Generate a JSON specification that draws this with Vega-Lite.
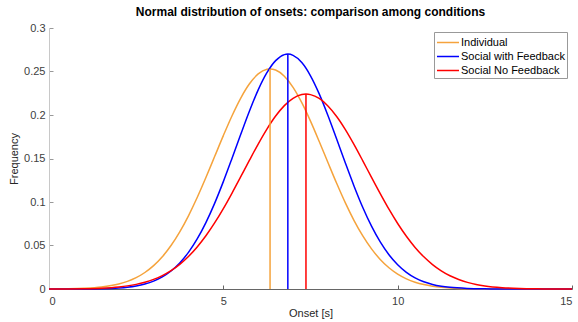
{
  "$schema": "https://vega.github.io/schema/vega-lite/v6.json",
  "width": 523,
  "height": 261,
  "autosize": "none",
  "padding": {"left": 49, "top": 28, "right": 6, "bottom": 33},
  "background": "white",
  "title": {"text": "Normal distribution of onsets: comparison among conditions", "fontSize": 12, "font": "Liberation Sans", "fontWeight": "bold", "color": "black", "offset": 3, "anchor": "middle"},
  "config": {
    "view": {"stroke": null},
    "font": "Liberation Sans",
    "axis": {"grid": false, "labelFont": "Liberation Sans", "labelFontSize": 11, "labelColor": "#404040", "titleFont": "Liberation Sans", "titleFontSize": 11, "titleFontWeight": "normal", "titleColor": "#262626", "tickSize": -4, "domainWidth": 1}
  },
  "datasets": {
    "curves": [
      {"condition": "Individual", "x": 0, "y": 0.00008},
      {"condition": "Individual", "x": 0.5, "y": 0.00027},
      {"condition": "Individual", "x": 1, "y": 0.00082},
      {"condition": "Individual", "x": 1.5, "y": 0.00228},
      {"condition": "Individual", "x": 2, "y": 0.00573},
      {"condition": "Individual", "x": 2.25, "y": 0.00876},
      {"condition": "Individual", "x": 2.5, "y": 0.01304},
      {"condition": "Individual", "x": 2.75, "y": 0.01896},
      {"condition": "Individual", "x": 3, "y": 0.02685},
      {"condition": "Individual", "x": 3.25, "y": 0.03709},
      {"condition": "Individual", "x": 3.5, "y": 0.04997},
      {"condition": "Individual", "x": 3.75, "y": 0.06566},
      {"condition": "Individual", "x": 4, "y": 0.08415},
      {"condition": "Individual", "x": 4.25, "y": 0.1051},
      {"condition": "Individual", "x": 4.5, "y": 0.1281},
      {"condition": "Individual", "x": 4.75, "y": 0.1522},
      {"condition": "Individual", "x": 5, "y": 0.1763},
      {"condition": "Individual", "x": 5.25, "y": 0.1992},
      {"condition": "Individual", "x": 5.5, "y": 0.2195},
      {"condition": "Individual", "x": 5.75, "y": 0.2359},
      {"condition": "Individual", "x": 6, "y": 0.2472},
      {"condition": "Individual", "x": 6.25, "y": 0.2526},
      {"condition": "Individual", "x": 6.34, "y": 0.253},
      {"condition": "Individual", "x": 6.5, "y": 0.2517},
      {"condition": "Individual", "x": 6.75, "y": 0.2446},
      {"condition": "Individual", "x": 7, "y": 0.2318},
      {"condition": "Individual", "x": 7.25, "y": 0.2142},
      {"condition": "Individual", "x": 7.5, "y": 0.193},
      {"condition": "Individual", "x": 7.75, "y": 0.1696},
      {"condition": "Individual", "x": 8, "y": 0.1454},
      {"condition": "Individual", "x": 8.25, "y": 0.1215},
      {"condition": "Individual", "x": 8.5, "y": 0.099},
      {"condition": "Individual", "x": 8.75, "y": 0.0787},
      {"condition": "Individual", "x": 9, "y": 0.061},
      {"condition": "Individual", "x": 9.25, "y": 0.0461},
      {"condition": "Individual", "x": 9.5, "y": 0.034},
      {"condition": "Individual", "x": 9.75, "y": 0.0244},
      {"condition": "Individual", "x": 10, "y": 0.0171},
      {"condition": "Individual", "x": 10.25, "y": 0.0117},
      {"condition": "Individual", "x": 10.5, "y": 0.0078},
      {"condition": "Individual", "x": 10.75, "y": 0.00507},
      {"condition": "Individual", "x": 11, "y": 0.00322},
      {"condition": "Individual", "x": 11.25, "y": 0.00199},
      {"condition": "Individual", "x": 11.5, "y": 0.0012},
      {"condition": "Individual", "x": 12, "y": 0.0004},
      {"condition": "Individual", "x": 13, "y": 0.00003},
      {"condition": "Individual", "x": 14, "y": 0},
      {"condition": "Individual", "x": 15, "y": 0},
      {"condition": "Social with Feedback", "x": 0, "y": 0.00001},
      {"condition": "Social with Feedback", "x": 0.5, "y": 0.00003},
      {"condition": "Social with Feedback", "x": 1, "y": 0.00011},
      {"condition": "Social with Feedback", "x": 1.5, "y": 0.00039},
      {"condition": "Social with Feedback", "x": 2, "y": 0.00124},
      {"condition": "Social with Feedback", "x": 2.25, "y": 0.00213},
      {"condition": "Social with Feedback", "x": 2.5, "y": 0.00355},
      {"condition": "Social with Feedback", "x": 2.75, "y": 0.00576},
      {"condition": "Social with Feedback", "x": 3, "y": 0.00908},
      {"condition": "Social with Feedback", "x": 3.25, "y": 0.0139},
      {"condition": "Social with Feedback", "x": 3.5, "y": 0.0207},
      {"condition": "Social with Feedback", "x": 3.75, "y": 0.0299},
      {"condition": "Social with Feedback", "x": 4, "y": 0.0421},
      {"condition": "Social with Feedback", "x": 4.25, "y": 0.0575},
      {"condition": "Social with Feedback", "x": 4.5, "y": 0.0763},
      {"condition": "Social with Feedback", "x": 4.75, "y": 0.0984},
      {"condition": "Social with Feedback", "x": 5, "y": 0.1234},
      {"condition": "Social with Feedback", "x": 5.25, "y": 0.1503},
      {"condition": "Social with Feedback", "x": 5.5, "y": 0.1779},
      {"condition": "Social with Feedback", "x": 5.75, "y": 0.2047},
      {"condition": "Social with Feedback", "x": 6, "y": 0.2289},
      {"condition": "Social with Feedback", "x": 6.25, "y": 0.2486},
      {"condition": "Social with Feedback", "x": 6.5, "y": 0.2625},
      {"condition": "Social with Feedback", "x": 6.75, "y": 0.2694},
      {"condition": "Social with Feedback", "x": 6.85, "y": 0.27},
      {"condition": "Social with Feedback", "x": 7, "y": 0.2686},
      {"condition": "Social with Feedback", "x": 7.25, "y": 0.2603},
      {"condition": "Social with Feedback", "x": 7.5, "y": 0.2451},
      {"condition": "Social with Feedback", "x": 7.75, "y": 0.2243},
      {"condition": "Social with Feedback", "x": 8, "y": 0.1995},
      {"condition": "Social with Feedback", "x": 8.25, "y": 0.1724},
      {"condition": "Social with Feedback", "x": 8.5, "y": 0.1448},
      {"condition": "Social with Feedback", "x": 8.75, "y": 0.1182},
      {"condition": "Social with Feedback", "x": 9, "y": 0.0937},
      {"condition": "Social with Feedback", "x": 9.25, "y": 0.0722},
      {"condition": "Social with Feedback", "x": 9.5, "y": 0.0541},
      {"condition": "Social with Feedback", "x": 9.75, "y": 0.0394},
      {"condition": "Social with Feedback", "x": 10, "y": 0.0279},
      {"condition": "Social with Feedback", "x": 10.25, "y": 0.0192},
      {"condition": "Social with Feedback", "x": 10.5, "y": 0.0128},
      {"condition": "Social with Feedback", "x": 10.75, "y": 0.0083},
      {"condition": "Social with Feedback", "x": 11, "y": 0.00524},
      {"condition": "Social with Feedback", "x": 11.25, "y": 0.00321},
      {"condition": "Social with Feedback", "x": 11.5, "y": 0.00191},
      {"condition": "Social with Feedback", "x": 12, "y": 0.00062},
      {"condition": "Social with Feedback", "x": 12.5, "y": 0.00018},
      {"condition": "Social with Feedback", "x": 13, "y": 0.00005},
      {"condition": "Social with Feedback", "x": 14, "y": 0},
      {"condition": "Social with Feedback", "x": 15, "y": 0},
      {"condition": "Social No Feedback", "x": 0, "y": 0.00004},
      {"condition": "Social No Feedback", "x": 0.5, "y": 0.00013},
      {"condition": "Social No Feedback", "x": 1, "y": 0.00037},
      {"condition": "Social No Feedback", "x": 1.5, "y": 0.00098},
      {"condition": "Social No Feedback", "x": 2, "y": 0.00238},
      {"condition": "Social No Feedback", "x": 2.25, "y": 0.0036},
      {"condition": "Social No Feedback", "x": 2.5, "y": 0.00533},
      {"condition": "Social No Feedback", "x": 2.75, "y": 0.00774},
      {"condition": "Social No Feedback", "x": 3, "y": 0.01104},
      {"condition": "Social No Feedback", "x": 3.25, "y": 0.01542},
      {"condition": "Social No Feedback", "x": 3.5, "y": 0.02113},
      {"condition": "Social No Feedback", "x": 3.75, "y": 0.02838},
      {"condition": "Social No Feedback", "x": 4, "y": 0.03739},
      {"condition": "Social No Feedback", "x": 4.25, "y": 0.0483},
      {"condition": "Social No Feedback", "x": 4.5, "y": 0.0612},
      {"condition": "Social No Feedback", "x": 4.75, "y": 0.0759},
      {"condition": "Social No Feedback", "x": 5, "y": 0.0924},
      {"condition": "Social No Feedback", "x": 5.25, "y": 0.1103},
      {"condition": "Social No Feedback", "x": 5.5, "y": 0.1291},
      {"condition": "Social No Feedback", "x": 5.75, "y": 0.1481},
      {"condition": "Social No Feedback", "x": 6, "y": 0.1666},
      {"condition": "Social No Feedback", "x": 6.25, "y": 0.1838},
      {"condition": "Social No Feedback", "x": 6.5, "y": 0.1988},
      {"condition": "Social No Feedback", "x": 6.75, "y": 0.2108},
      {"condition": "Social No Feedback", "x": 7, "y": 0.2192},
      {"condition": "Social No Feedback", "x": 7.25, "y": 0.2235},
      {"condition": "Social No Feedback", "x": 7.37, "y": 0.224},
      {"condition": "Social No Feedback", "x": 7.5, "y": 0.2234},
      {"condition": "Social No Feedback", "x": 7.75, "y": 0.219},
      {"condition": "Social No Feedback", "x": 8, "y": 0.2104},
      {"condition": "Social No Feedback", "x": 8.25, "y": 0.1983},
      {"condition": "Social No Feedback", "x": 8.5, "y": 0.1832},
      {"condition": "Social No Feedback", "x": 8.75, "y": 0.1659},
      {"condition": "Social No Feedback", "x": 9, "y": 0.1473},
      {"condition": "Social No Feedback", "x": 9.25, "y": 0.1283},
      {"condition": "Social No Feedback", "x": 9.5, "y": 0.1096},
      {"condition": "Social No Feedback", "x": 9.75, "y": 0.0917},
      {"condition": "Social No Feedback", "x": 10, "y": 0.0753},
      {"condition": "Social No Feedback", "x": 10.25, "y": 0.0606},
      {"condition": "Social No Feedback", "x": 10.5, "y": 0.0478},
      {"condition": "Social No Feedback", "x": 10.75, "y": 0.037},
      {"condition": "Social No Feedback", "x": 11, "y": 0.0281},
      {"condition": "Social No Feedback", "x": 11.25, "y": 0.0209},
      {"condition": "Social No Feedback", "x": 11.5, "y": 0.0152},
      {"condition": "Social No Feedback", "x": 11.75, "y": 0.0109},
      {"condition": "Social No Feedback", "x": 12, "y": 0.00763},
      {"condition": "Social No Feedback", "x": 12.25, "y": 0.00525},
      {"condition": "Social No Feedback", "x": 12.5, "y": 0.00354},
      {"condition": "Social No Feedback", "x": 13, "y": 0.00152},
      {"condition": "Social No Feedback", "x": 13.5, "y": 0.0006},
      {"condition": "Social No Feedback", "x": 14, "y": 0.00022},
      {"condition": "Social No Feedback", "x": 14.5, "y": 0.00007},
      {"condition": "Social No Feedback", "x": 15, "y": 0.00002}
    ],
    "peaks": [
      {"condition": "Individual", "mean": 6.34, "base": 0, "peak": 0.253},
      {"condition": "Social with Feedback", "mean": 6.85, "base": 0, "peak": 0.27},
      {"condition": "Social No Feedback", "mean": 7.37, "base": 0, "peak": 0.224}
    ]
  },
  "layer": [
    {
      "data": {"name": "curves"},
      "mark": {"type": "line", "strokeWidth": 1.5, "interpolate": "monotone"},
      "encoding": {
        "x": {"field": "x", "type": "quantitative", "scale": {"domain": [0, 15], "nice": false, "zero": false},
              "axis": {"values": [0, 5, 10, 15], "format": "~g", "title": "Onset [s]", "domainColor": "#666666", "tickColor": "#666666", "labelPadding": 10, "titlePadding": 1}},
        "y": {"field": "y", "type": "quantitative", "scale": {"domain": [0, 0.3], "nice": false},
              "axis": {"values": [0, 0.05, 0.1, 0.15, 0.2, 0.25, 0.3], "format": "~g", "title": "Frequency", "domainColor": "#c8c8c8", "tickColor": "#999999", "labelPadding": 8, "titlePadding": 4}},
        "color": {"field": "condition", "type": "nominal",
                  "scale": {"domain": ["Individual", "Social with Feedback", "Social No Feedback"], "range": ["#F5A33C", "#0000FF", "#FF0000"]},
                  "legend": {"title": null, "orient": "none", "legendX": 385, "legendY": 4, "fillColor": "white", "strokeColor": "#999999", "padding": 2, "rowPadding": -1, "labelFontSize": 11, "labelColor": "black", "labelFont": "Liberation Sans", "symbolType": "M-1,0H1.93", "symbolSize": 225, "symbolStrokeWidth": 1.5, "symbolOffset": 0, "labelOffset": 8}}
      }
    },
    {
      "data": {"name": "peaks"},
      "mark": {"type": "rule", "strokeWidth": 1.5},
      "encoding": {
        "x": {"field": "mean", "type": "quantitative"},
        "y": {"field": "base", "type": "quantitative"},
        "y2": {"field": "peak"},
        "color": {"field": "condition", "type": "nominal"}
      }
    }
  ]
}
